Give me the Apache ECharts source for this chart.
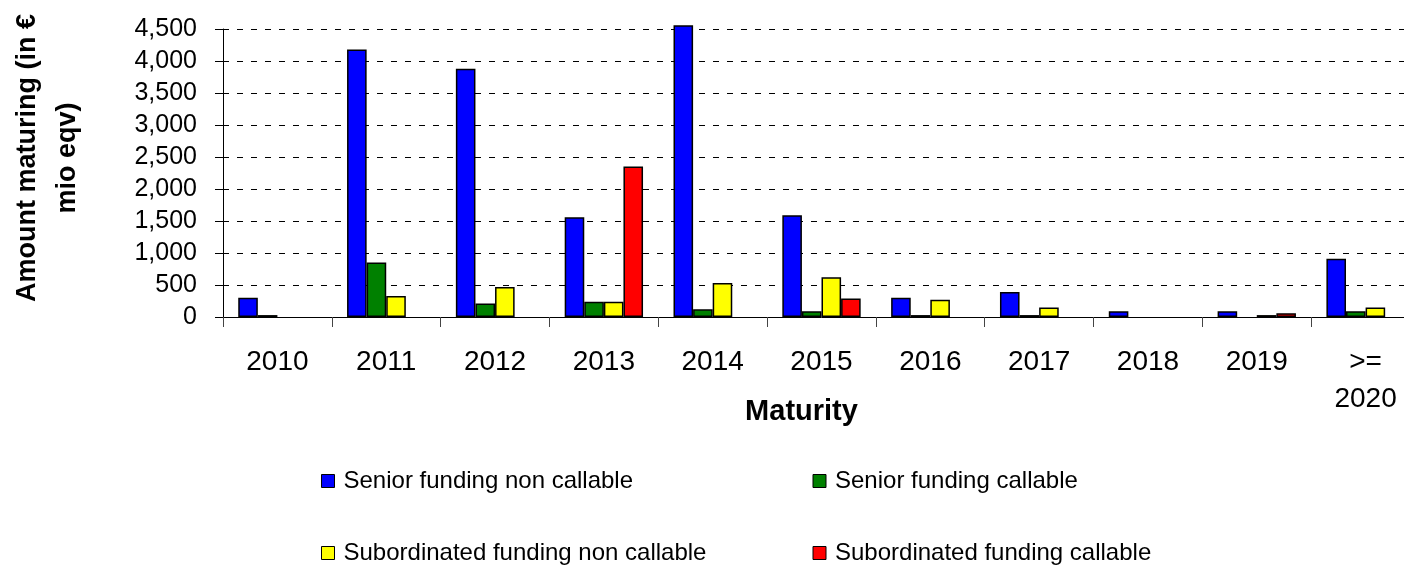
<!DOCTYPE html>
<html>
<head>
<meta charset="utf-8">
<script src="https://cdn.jsdelivr.net/npm/echarts@6/dist/echarts.min.js"></script>
<style>
  html, body { margin: 0; padding: 0; background: #fff; overflow: hidden; }
  /* the plot runs a little past the right edge of the picture, like the original */
  #chart { width: 1420px; height: 571px; }
</style>
</head>
<body>
<div id="chart"></div>
<script>
// maturity buckets
var categories = ['2010', '2011', '2012', '2013', '2014', '2015', '2016', '2017', '2018', '2019', '>= 2020'];
// amounts in EUR mio eqv
var seniorNonCallable = [300, 4180, 3880, 1560, 4560, 1590, 300, 390, 90, 90, 910];
var seniorCallable = [30, 850, 210, 240, 120, 90, 30, 30, 0, 0, 90];
var subNonCallable = [0, 330, 470, 240, 530, 620, 270, 150, 0, 30, 150];
var subCallable = [0, 0, 0, 2350, 0, 290, 0, 0, 0, 60, 0];
var yTicks = [0, 500, 1000, 1500, 2000, 2500, 3000, 3500, 4000, 4500];

var FONT = '"Liberation Sans", Arial, sans-serif';

var chart = echarts.init(document.getElementById('chart'));

function barSeries(name, data, color) {
  return {
    name: name,
    type: 'bar',
    // empty buckets get no bar at all
    data: data.map(function (v) { return v === 0 ? null : v; }),
    clip: false,
    barGap: '0%',
    barCategoryGap: '28%',
    itemStyle: { color: color, borderColor: '#000', borderWidth: 1.5 }
  };
}

var option = {
  animation: false,
  backgroundColor: '#fff',
  textStyle: { fontFamily: FONT, color: '#000' },
  grid: { left: 222, top: 29, width: 1198, height: 288, containLabel: false },
  legend: {
    left: 321,
    top: 469,
    width: 960,
    padding: 0,
    itemGap: 48,
    itemWidth: 13,
    itemHeight: 13,
    icon: 'rect',
    itemStyle: { borderColor: '#000', borderWidth: 1 },
    textStyle: { fontFamily: FONT, fontSize: 24, color: '#000', width: 421, lineHeight: 24, padding: [0, 0, 0, 4] },
    data: ['Senior funding non callable', 'Senior funding callable', 'Subordinated funding non callable', 'Subordinated funding callable']
  },
  xAxis: {
    type: 'category',
    data: categories,
    name: 'Maturity',
    nameLocation: 'middle',
    nameGap: 80,
    nameMoveOverlap: false,
    nameTextStyle: { fontFamily: FONT, fontSize: 29, fontWeight: 'bold', color: '#000', lineHeight: 29, padding: [0, 40, 0, 0] },
    axisLine: { lineStyle: { color: '#000', width: 1 } },
    axisTick: { show: true, length: 10, lineStyle: { color: '#444' } },
    axisLabel: {
      fontFamily: FONT, fontSize: 28, color: '#000', margin: 27, lineHeight: 37, interval: 0,
      formatter: function (v) { return v.replace(' ', '\n'); }
    },
    splitLine: { show: false }
  },
  yAxis: {
    type: 'value',
    min: yTicks[0],
    max: yTicks[yTicks.length - 1],
    interval: 500,
    name: 'Amount maturing (in €\nmio eqv)',
    nameLocation: 'middle',
    nameRotate: 90,
    nameGap: 135,
    nameMoveOverlap: false,
    nameTextStyle: { fontFamily: FONT, fontSize: 27, fontWeight: 'bold', color: '#000', lineHeight: 40, padding: [0, 0, 0, 30] },
    axisLine: { show: true, lineStyle: { color: '#000', width: 1 } },
    axisTick: { show: true, length: 8, lineStyle: { color: '#000' } },
    axisLabel: {
      fontFamily: FONT, fontSize: 25, color: '#000', margin: 26, padding: [6, 0, 0, 0],
      formatter: function (v) { return v.toLocaleString('en-US'); }
    },
    splitLine: { show: true, lineStyle: { color: '#000', width: 1, type: [6, 8] } }
  },
  series: [
    barSeries('Senior funding non callable', seniorNonCallable, '#0000ff'),
    barSeries('Senior funding callable', seniorCallable, '#008000'),
    barSeries('Subordinated funding non callable', subNonCallable, '#ffff00'),
    barSeries('Subordinated funding callable', subCallable, '#ff0000')
  ]
};

chart.setOption(option);
</script>
</body>
</html>
